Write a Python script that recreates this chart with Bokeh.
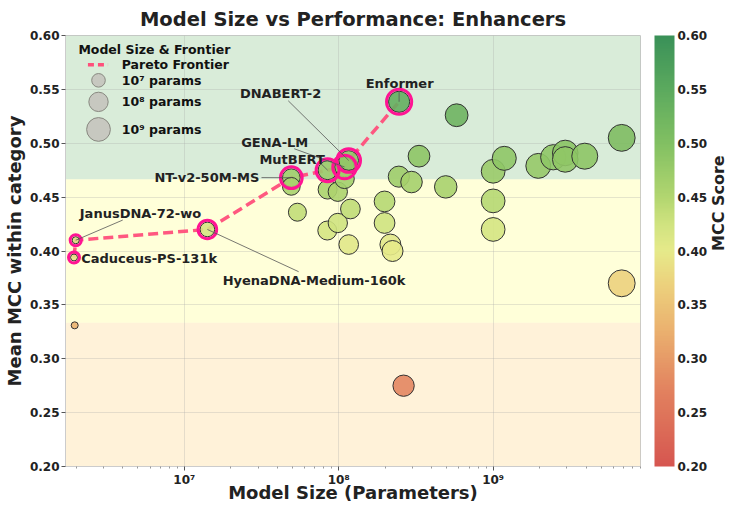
import math
import numpy as np
from bokeh.plotting import figure
from bokeh.models import (ColumnDataSource, BoxAnnotation, LinearColorMapper, ColorBar, FixedTicker,
                          LinearAxis, Range1d, LinearScale, NumeralTickFormatter, BasicTickFormatter)
from bokeh.core.properties import value
from bokeh.transform import transform
from bokeh.embed import file_html
from bokeh.resources import INLINE

# ---------------- data ----------------
model_names = ["Caduceus-PS-131k", "JanusDNA-72-wo", "", "HyenaDNA-Medium-160k",
               "NT-v2-50M-MS", "", "", "MutBERT", "", "", "", "",
               "GENA-LM", "", "DNABERT-2", "", "", "", "", "", "",
               "Enformer", "", "", "", "", "", "", "", "", "",
               "", "", "", "", "", "", "", ""]
model_params = [1.93e6, 1.98e6, 1.95e6, 1.41e7,
                4.93e7, 4.93e7, 5.4e7, 8.47e7, 8.47e7, 8.43e7, 9.86e7, 9.86e7,
                1.09e8, 1.09e8, 1.16e8, 1.16e8, 1.19e8, 1.98e8, 1.98e8, 2.16e8, 2.23e8,
                2.46e8, 2.45e8, 2.63e8, 2.96e8, 3.31e8, 4.93e8, 5.8e8, 1.0e9, 1.0e9, 1.0e9,
                1.18e9, 1.96e9, 2.45e9, 2.93e9, 2.93e9, 3.92e9, 6.8e9, 6.8e9]
model_mcc = [0.394, 0.410, 0.331, 0.420,
             0.468, 0.460, 0.436, 0.475, 0.457, 0.419, 0.455, 0.426,
             0.478, 0.467, 0.484, 0.406, 0.439, 0.446, 0.426, 0.406, 0.400,
             0.5385, 0.469, 0.275, 0.464, 0.488, 0.4595, 0.526, 0.474, 0.4465, 0.420,
             0.486, 0.479, 0.487, 0.491, 0.485, 0.488, 0.505, 0.370]

legend_params = [1e7, 1e8, 1e9]
legend_labels = ["10\u2077 params", "10\u2078 params", "10\u2079 params"]
x_tick_values = [1e7, 1e8, 1e9]
x_tick_labels = ["10\u2077", "10\u2078", "10\u2079"]
y_tick_values = [0.20, 0.25, 0.30, 0.35, 0.40, 0.45, 0.50, 0.55, 0.60]
band_edges = [0.20, 0.3335, 0.4665, 0.60]

# ---------------- layout / style ----------------
FONT_NAME = "DejaVu Sans"
FONT = value(FONT_NAME)
TXT = "#222222"

def marker_diam(n):
    return np.sqrt(190.0 * (np.log10(np.asarray(n, dtype=float)) - 6.03))

# annotation placement (text position, alignment, leader-line start)
label_layout = {
    "Enformer": dict(tx=2.48e8, ty=0.5554, align="center", lx=2.46e8, ly=0.5483),
    "DNABERT-2": dict(tx=4.2e7, ty=0.5465, align="center", lx=4.71e7, ly=0.5394),
    "GENA-LM": dict(tx=3.85e7, ty=0.5011, align="center", lx=5.15e7, ly=0.4949),
    "MutBERT": dict(tx=4.99e7, ty=0.4851, align="center", lx=7.54e7, ly=0.4821),
    "NT-v2-50M-MS": dict(tx=3.06e7, ty=0.4681, align="right", lx=3.16e7, ly=0.4681),
    "JanusDNA-72-wo": dict(tx=5.2e6, ty=0.4352, align="center", lx=3.99e6, ly=0.4287),
    "Caduceus-PS-131k": dict(tx=2.15e6, ty=0.3933, align="left", lx=None, ly=None),
    "HyenaDNA-Medium-160k": dict(tx=6.92e7, ty=0.3728, align="center", lx=5.5e7, ly=0.3808),
}

# colour map
stops = [0.20, 0.27, 0.33, 0.37, 0.40, 0.425, 0.45, 0.50, 0.55, 0.60]
rgb = [(214, 86, 80), (226, 130, 95), (235, 180, 112), (236, 210, 125), (230, 234, 138),
       (208, 227, 128), (178, 214, 112), (130, 192, 98), (92, 170, 94), (58, 145, 88)]
palette = []
for t in np.linspace(0.2, 0.6, 256):
    c = [int(round(np.interp(t, stops, [q[k] for q in rgb]))) for k in range(3)]
    palette.append("#%02x%02x%02x" % tuple(c))
mapper = LinearColorMapper(palette=palette, low=0.2, high=0.6)

# ---------------- figure ----------------
p = figure(width=740, height=505, x_axis_type="log", x_range=(1.7e6, 9e9), y_range=(0.2, 0.6),
           output_backend="svg", toolbar_location=None,
           min_border_left=0, min_border_right=0, min_border_top=0, min_border_bottom=0)
p.background_fill_color = "white"
p.outline_line_color = "#cccccc"

p.title.text = "Model Size vs Performance: Enhancers"
p.title.align = "center"
p.title.text_font = FONT_NAME
p.title.text_font_size = "19.5px"
p.title.text_font_style = "bold"
p.title.text_color = TXT
p.title.standoff = 10

# background bands
for (lo, hi), col in zip(zip(band_edges[:-1], band_edges[1:]), ["orange", "yellow", "green"]):
    p.add_layout(BoxAnnotation(bottom=lo, top=hi, fill_color=col, fill_alpha=0.15,
                               line_color=None, level="image"))

# axes
minor = [k * 10.0 ** e for e in range(6, 10) for k in range(2, 10) if 1.7e6 <= k * 10.0 ** e <= 9e9]
p.xaxis.ticker = FixedTicker(ticks=x_tick_values, minor_ticks=minor)
p.xaxis.formatter = BasicTickFormatter()
p.xaxis.major_label_overrides = {v: s for v, s in zip(x_tick_values, x_tick_labels)}
p.yaxis.ticker = FixedTicker(ticks=y_tick_values)
p.yaxis.formatter = NumeralTickFormatter(format="0.00")
for ax in (p.xaxis[0], p.yaxis[0]):
    ax.axis_line_color = "#cccccc"
    ax.major_tick_line_color = "#555555"
    ax.major_tick_out = 4
    ax.major_tick_in = 0
    ax.minor_tick_line_color = "#999999"
    ax.minor_tick_out = 2
    ax.minor_tick_in = 0
    ax.major_label_text_font = FONT_NAME
    ax.major_label_text_font_style = "bold"
    ax.major_label_text_font_size = "12px"
    ax.major_label_text_color = TXT
    ax.axis_label_text_font = FONT_NAME
    ax.axis_label_text_font_style = "bold"
    ax.axis_label_text_font_size = "18px"
    ax.axis_label_text_color = TXT
    ax.major_label_standoff = 2
    ax.axis_label_standoff = 2
p.xaxis.axis_label_standoff = -8
p.yaxis.minor_tick_line_color = None
p.xaxis.axis_label = "Model Size (Parameters)"
p.yaxis.axis_label = "Mean MCC within category"
p.grid.grid_line_color = "#aaaaaa"
p.grid.grid_line_alpha = 0.3

# data
params = np.array(model_params)
mcc = np.array(model_mcc)
src = ColumnDataSource(dict(x=params, y=mcc, size=marker_diam(params), name=model_names))

# Pareto frontier
order = sorted(range(len(params)), key=lambda i: (params[i], -mcc[i]))
front, best = [], -np.inf
for i in order:
    if mcc[i] > best:
        front.append(i)
        best = mcc[i]
fsrc = ColumnDataSource(dict(x=params[front], y=mcc[front], size=marker_diam(params[front]) + 4))

p.line("x", "y", source=fsrc, line_color="#ff4f7b", line_width=3.5, line_dash="10 5", line_alpha=0.95)
p.scatter("x", "y", source=src, size="size", fill_color=transform("y", mapper), fill_alpha=0.9,
          line_color="#333333", line_width=1)
p.scatter("x", "y", source=fsrc, size="size", fill_color=None, line_color="#ff1493", line_width=3)

# annotations
ann = dict(tx=[], ty=[], text=[], align=[])
seg = dict(x0=[], y0=[], x1=[], y1=[])
for i in front:
    nm = model_names[i]
    if nm not in label_layout:
        continue
    L = label_layout[nm]
    ann["tx"].append(L["tx"]); ann["ty"].append(L["ty"]); ann["text"].append(nm); ann["align"].append(L["align"])
    if L["lx"] is not None:
        seg["x0"].append(L["lx"]); seg["y0"].append(L["ly"]); seg["x1"].append(params[i]); seg["y1"].append(mcc[i])
p.segment("x0", "y0", "x1", "y1", source=ColumnDataSource(seg), line_color="#555555", line_width=0.8)
p.text("tx", "ty", text="text", source=ColumnDataSource(ann), text_align="align", text_baseline="middle",
       text_font=FONT, text_font_style="bold", text_font_size="13px", text_color=TXT)

# legend (drawn in frame-fraction coordinates)
p.extra_x_ranges = {"leg": Range1d(0, 1)}
p.extra_x_scales = {"leg": LinearScale()}
p.extra_y_ranges = {"leg": Range1d(0, 1), "cb": Range1d(0.2, 0.6)}
leg_y = [0.896, 0.846, 0.782]
p.text(x=[0.0224], y=[0.967], text=["Model Size & Frontier"], x_range_name="leg", y_range_name="leg",
       text_align="left", text_baseline="middle", text_font=FONT, text_font_style="bold",
       text_font_size="12.5px", text_color="#111111")
p.line(x=[0.039, 0.074], y=[0.932, 0.932], x_range_name="leg", y_range_name="leg",
       line_color="#ff4f7b", line_width=3.5, line_dash="6 4")
p.text(x=[0.0978] * 4, y=[0.932] + leg_y, text=["Pareto Frontier"] + legend_labels,
       x_range_name="leg", y_range_name="leg", text_align="left", text_baseline="middle",
       text_font=FONT, text_font_style="bold", text_font_size="12.5px", text_color="#111111")
p.scatter(x=[0.0574] * 3, y=leg_y, size=marker_diam(legend_params), x_range_name="leg", y_range_name="leg",
          fill_color="#c4c4bc", fill_alpha=0.9, line_color="#888880", line_width=1)

# colour bar
cb = ColorBar(color_mapper=mapper, ticker=FixedTicker(ticks=y_tick_values),
              formatter=NumeralTickFormatter(format="0.00"), width=20, padding=0, margin=0,
              location=(14, 0),
              label_standoff=3, major_tick_line_color=None, minor_tick_line_color=None,
              major_label_text_font=FONT_NAME, major_label_text_font_style="bold",
              major_label_text_font_size="12px", major_label_text_color=TXT,
              background_fill_color=None, bar_line_color=None, border_line_color=None)
p.add_layout(cb, "right")
lab_ax = LinearAxis(y_range_name="cb", ticker=FixedTicker(ticks=[]), axis_label="MCC Score",
                    axis_line_color=None, major_tick_line_color=None, minor_tick_line_color=None,
                    axis_label_text_font=FONT_NAME, axis_label_text_font_style="bold",
                    axis_label_text_font_size="16px", axis_label_text_color=TXT, axis_label_standoff=8)
if "axis_label_orientation" in LinearAxis.properties():
    lab_ax.axis_label_orientation = math.pi / 2
p.add_layout(lab_ax, "right")

open("out.html", "w").write(file_html(p, INLINE))
